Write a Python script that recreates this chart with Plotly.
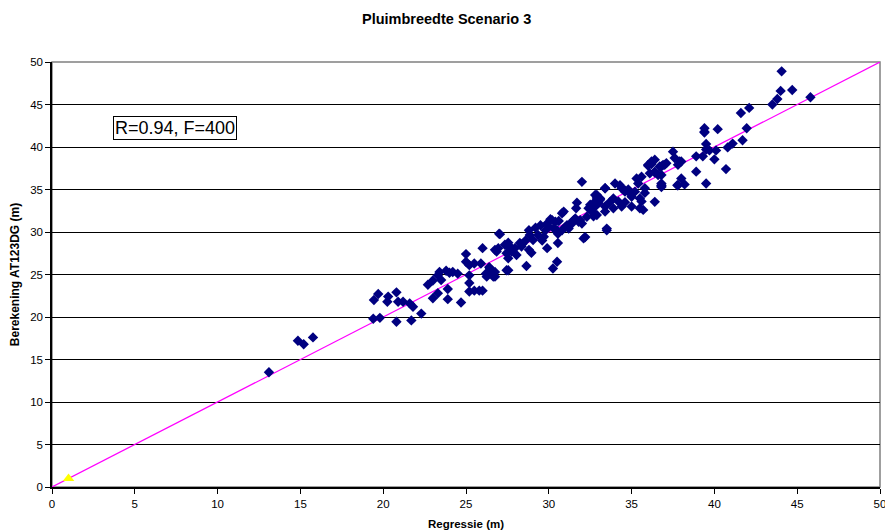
import plotly.graph_objects as go

# Regressie (m) vs Berekening AT123DG (m)
regressie = [
    13.1, 14.85, 15.2, 15.76,
    19.4, 19.8, 19.44, 19.7, 20.3, 20.25, 20.8, 20.9, 21.2, 20.8, 21.6, 21.8, 21.7, 22.3,
    22.7, 23.0, 23.0, 23.3, 23.3, 23.4, 23.5, 23.9, 23.9, 23.8, 24.0, 24.2, 24.5, 24.7,
    25.0, 25.0, 25.2, 25.5, 25.2, 25.2, 25.5, 25.8, 26.0, 25.2, 26.0, 25.9, 26.2, 26.4,
    26.65, 26.75, 26.85, 27.0, 27.45, 27.45, 27.6,
    27.05, 26.75, 26.95, 27.35, 27.55, 27.65, 27.75, 27.55, 27.95, 28.05, 28.25, 28.35,
    27.55, 26.55, 28.65, 28.8, 28.85, 28.8, 28.95, 29.05, 29.35, 29.5, 29.7, 29.8, 29.9,
    29.9, 30.2, 30.3, 30.4, 30.5, 30.55, 30.55, 30.5, 30.25, 30.8, 30.8, 30.9, 31.0,
    31.1, 31.3, 31.5, 31.6, 31.65, 31.7, 31.8, 31.9, 32.0, 32.1, 32.2, 32.3, 32.4, 32.5,
    32.6, 32.7, 32.8, 32.9, 33.0, 32.9, 33.1, 33.4, 33.5, 33.4, 32.0,
    26.45, 26.5, 26.25, 26.75, 28.6, 29.2, 30.0, 30.6, 31.2, 31.4, 29.6, 28.4, 30.1,
    34.0, 34.3, 34.4, 34.6, 34.8, 33.4, 32.9, 33.1, 33.9, 33.7, 34.2, 34.4, 33.9, 33.4,
    32.8, 32.7, 33.5, 35.0, 34.6,
    35.6, 35.3, 35.4, 35.8, 35.8, 35.2, 34.9, 34.6, 35.0, 35.5, 35.6, 35.5, 35.7,
    36.0, 36.2, 36.1, 36.4, 36.6, 36.4, 36.7, 36.8, 36.8, 36.9, 37.1, 36.4, 36.2, 36.0,
    36.8, 37.0, 36.4, 36.8, 36.8, 36.8,
    37.5, 37.6, 37.9, 38.0, 37.8, 37.8, 38.0, 37.76, 38.2, 38.9, 38.9,
    39.3, 39.4, 39.4, 39.5, 39.5, 39.7, 40.1, 40.0, 39.5, 39.4, 40.2, 40.7,
    40.8, 41.1, 41.7, 41.95, 41.6, 42.1,
    43.5, 43.8, 44.0, 44.06, 44.7, 45.8,
]
berekening = [
    13.5, 17.2, 16.8, 17.6,
    19.8, 19.9, 22.0, 22.7, 22.4, 21.8, 22.9, 21.8, 21.8, 19.45, 21.6, 21.2, 19.6, 20.4,
    23.8, 24.3, 22.2, 22.8, 24.9, 25.3, 24.35, 23.3, 22.1, 25.45, 25.2, 25.3, 25.1, 21.7,
    27.4, 26.5, 26.1, 26.3, 24.0, 23.0, 23.1, 23.1, 23.1, 24.9, 28.1, 26.3, 25.1, 25.85,
    24.75, 25.3, 27.7, 29.8, 25.5, 27.5, 28.3,
    29.75, 27.9, 28.1, 28.5, 28.75, 28.3, 27.7, 26.9, 28.1, 27.3, 28.7, 28.3,
    25.5, 25.5, 26.0, 30.2, 29.65, 27.9, 27.55, 29.05, 29.65, 30.8, 29.45, 30.2, 31.0,
    28.1, 31.4, 30.4, 31.2, 30.2, 29.8, 28.7, 26.5, 25.7, 30.2, 32.2, 32.4, 30.6,
    30.8, 31.0, 31.4, 31.6, 32.8, 33.45, 31.2, 31.4, 31.0, 29.25, 29.4, 31.8, 32.8, 33.2,
    32.4, 33.4, 34.35, 34.0, 33.4, 32.0, 33.8, 35.15, 30.2, 33.0, 35.9,
    25.7, 25.3, 24.75, 24.75, 29.0, 30.5, 30.6, 31.3, 30.4, 31.0, 29.0, 28.6, 31.5,
    35.7, 35.5, 35.15, 34.9, 35.0, 35.15, 34.35, 33.95, 33.95, 33.55, 33.6, 33.0, 32.8, 32.4,
    33.0, 31.85, 30.4, 33.0, 33.5,
    36.5, 36.3, 35.7, 35.15, 34.6, 34.75, 34.55, 34.75, 34.15, 33.95, 33.6, 32.8, 32.6,
    37.9, 38.3, 36.9, 37.1, 36.7, 33.55, 37.7, 37.7, 35.7, 37.9, 38.1, 38.5, 38.0, 37.8,
    36.7, 37.9, 37.0, 35.5, 35.3, 35.4,
    39.45, 38.7, 38.3, 36.3, 37.9, 35.5, 38.3, 35.5, 35.6, 37.1, 38.9,
    38.9, 42.2, 41.7, 40.35, 39.7, 39.6, 39.6, 38.55, 35.7, 41.8, 42.1, 37.4,
    39.95, 40.4, 40.8, 42.2, 44.0, 44.6,
    45.0, 45.65, 46.6, 48.9, 46.7, 45.85,
]

# Reference line y = x
line_x = [0, 50]
line_y = [0, 50]

# Single origin marker
origin_x = [1]
origin_y = [1]

x_ticks = list(range(0, 51, 5))
y_ticks = list(range(0, 51, 5))

font_family = "Liberation Sans, Arial, sans-serif"

fig = go.Figure()

fig.add_trace(go.Scatter(
    x=line_x, y=line_y, mode="lines",
    line=dict(color="#FF00FF", width=1.2),
    hoverinfo="skip", showlegend=False,
))

fig.add_trace(go.Scatter(
    x=regressie, y=berekening, mode="markers",
    marker=dict(symbol="diamond", size=8, color="#000080"),
    showlegend=False,
))

fig.add_trace(go.Scatter(
    x=origin_x, y=origin_y, mode="markers",
    marker=dict(symbol="triangle-up", size=10, color="#FFFF00"),
    showlegend=False,
))

# Grey frame on top and right of the plot area
fig.add_shape(type="rect", xref="paper", yref="paper", x0=0, y0=0, x1=1, y1=1,
              line=dict(color="#808080", width=1.5), layer="below")

fig.add_annotation(
    x=3.7, y=42.2, xref="x", yref="y", xanchor="left", yanchor="middle",
    text="R=0.94, F=400", showarrow=False,
    font=dict(family=font_family, size=18, color="black"),
    bgcolor="white", bordercolor="black", borderwidth=1, borderpad=1,
)

# Chart title
fig.add_annotation(
    x=0.477, y=1.0, xref="paper", yref="paper", xanchor="center", yanchor="bottom",
    yshift=33, text="<b>Pluimbreedte Scenario 3</b>", showarrow=False,
    font=dict(family=font_family, size=14.5, color="black"),
)

fig.update_layout(
    width=885, height=530,
    margin=dict(l=52, r=5, t=62, b=43),
    paper_bgcolor="white", plot_bgcolor="white",
    font=dict(family=font_family, size=11, color="black"),
)

fig.update_xaxes(
    range=[0, 50], tickvals=x_ticks, ticktext=[str(v) for v in x_ticks],
    showgrid=False, zeroline=False, automargin=False,
    showline=True, linecolor="black", linewidth=1.5,
    ticks="outside", ticklen=5, tickcolor="black",
    tickfont=dict(size=11.5), ticklabeloverflow="allow",
    title=dict(text="<b>Regressie (m)</b>", font=dict(size=11.5), standoff=12),
)
fig.update_yaxes(
    range=[0, 50], tickvals=y_ticks, ticktext=[str(v) for v in y_ticks],
    showgrid=True, gridcolor="black", gridwidth=1,
    zeroline=False, automargin=False,
    showline=True, linecolor="black", linewidth=1.5,
    ticks="outside", ticklen=5, tickcolor="black",
    tickfont=dict(size=11.5),
    title=dict(text="<b>Berekening AT123DG (m)</b>", font=dict(size=12), standoff=8),
)

fig.write_html("out.html")
